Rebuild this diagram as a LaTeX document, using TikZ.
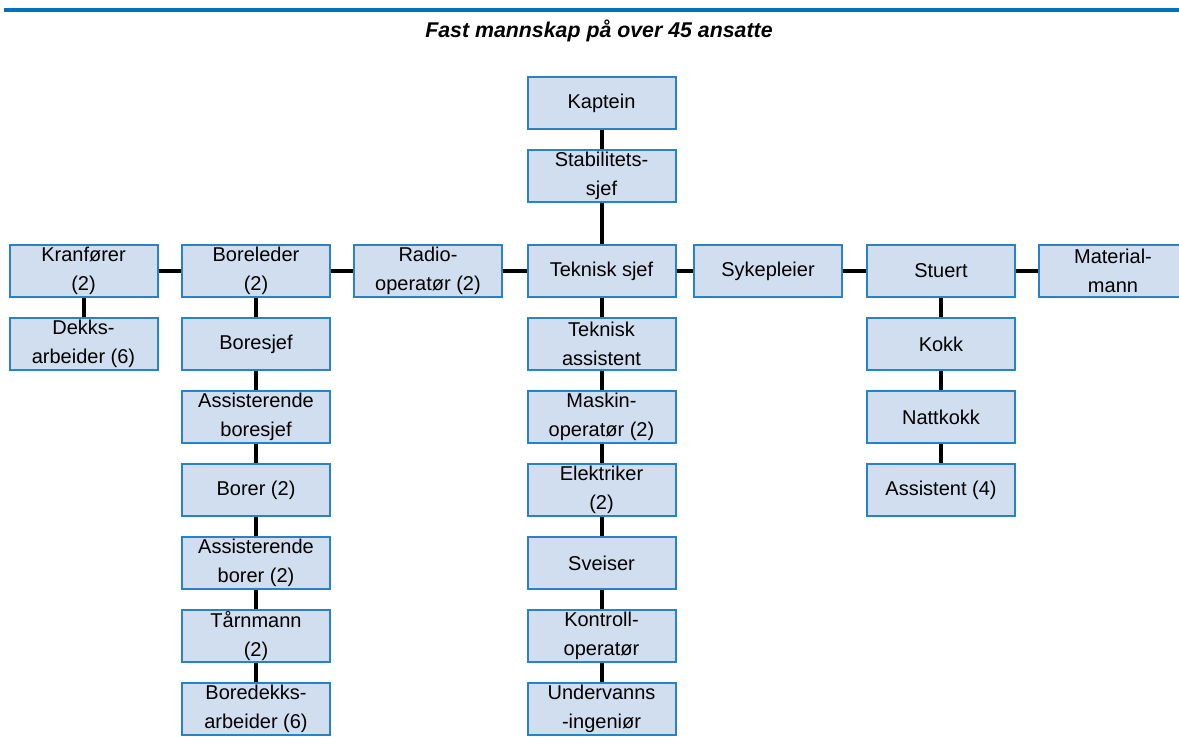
\documentclass[tikz,border=0pt]{standalone}
\usepackage{fontspec}
\setmainfont{Liberation Sans}
\usetikzlibrary{positioning}
\definecolor{rolefill}{RGB}{208,222,240}
\definecolor{roleedge}{RGB}{40,130,200}
\definecolor{headline}{RGB}{0,112,192}

\begin{document}
\begin{tikzpicture}[x=0.75pt,y=-0.75pt,
    node distance=14.25pt,
    role/.style={draw=roleedge, line width=1.5pt, fill=rolefill,
        minimum width=111pt, minimum height=39pt, inner sep=0pt,
        align=center, font=\fontsize{15}{22}\selectfont},
    link/.style={black, line width=3pt}]
    \useasboundingbox (0,0) rectangle (1179,745);

    % heading
    \draw[headline, line width=3pt] (4,10.5) -- (1179,10.5);
    \node[font=\fontsize{16}{18}\selectfont\bfseries\itshape] (title) at (599,31) {Fast mannskap på over 45 ansatte};

    % top and main row
    \node[role] (kaptein) at (601.5,103) {Kaptein};
    \node[role] (stab) at (601.5,176) {Stabilitets-\\sjef};
    \node[role] (kran) at (83.5,271) {Kranfører\\(2)};
    \node[role] (boreleder) at (256,271) {Boreleder\\(2)};
    \node[role] (radio) at (428,271) {Radio-\\operatør (2)};
    \node[role] (teknisk) at (601.5,271) {Teknisk sjef};
    \node[role] (syke) at (768,271) {Sykepleier};
    \node[role] (stuert) at (941,271) {Stuert};
    \node[role] (material) at (1113,271) {Material-\\mann};

    % columns
    \node[role, below=of kran] (dekks) {Dekks-\\arbeider (6)};

    \node[role, below=of boreleder] (boresjef) {Boresjef};
    \node[role, below=of boresjef] (assboresjef) {Assisterende\\boresjef};
    \node[role, below=of assboresjef] (borer) {Borer (2)};
    \node[role, below=of borer] (assborer) {Assisterende\\borer (2)};
    \node[role, below=of assborer] (taarn) {Tårnmann\\(2)};
    \node[role, below=of taarn] (boredekks) {Boredekks-\\arbeider (6)};

    \node[role, below=of teknisk] (tekass) {Teknisk\\assistent};
    \node[role, below=of tekass] (maskin) {Maskin-\\operatør (2)};
    \node[role, below=of maskin] (elektro) {Elektriker\\(2)};
    \node[role, below=of elektro] (sveiser) {Sveiser};
    \node[role, below=of sveiser] (kontroll) {Kontroll-\\operatør};
    \node[role, below=of kontroll] (undervann) {Undervanns\\-ingeniør};

    \node[role, below=of stuert] (kokk) {Kokk};
    \node[role, below=of kokk] (nattkokk) {Nattkokk};
    \node[role, below=of nattkokk] (assistent) {Assistent (4)};

    % connectors
    \draw[link] (kaptein) -- (stab);
    \draw[link] (stab) -- (teknisk);
    \draw[link] (kran) -- (boreleder);
    \draw[link] (boreleder) -- (radio);
    \draw[link] (radio) -- (teknisk);
    \draw[link] (teknisk) -- (syke);
    \draw[link] (syke) -- (stuert);
    \draw[link] (stuert) -- (material);
    \draw[link] (kran) -- (dekks);
    \draw[link] (boreleder) -- (boresjef);
    \draw[link] (boresjef) -- (assboresjef);
    \draw[link] (assboresjef) -- (borer);
    \draw[link] (borer) -- (assborer);
    \draw[link] (assborer) -- (taarn);
    \draw[link] (taarn) -- (boredekks);
    \draw[link] (teknisk) -- (tekass);
    \draw[link] (tekass) -- (maskin);
    \draw[link] (maskin) -- (elektro);
    \draw[link] (elektro) -- (sveiser);
    \draw[link] (sveiser) -- (kontroll);
    \draw[link] (kontroll) -- (undervann);
    \draw[link] (stuert) -- (kokk);
    \draw[link] (kokk) -- (nattkokk);
    \draw[link] (nattkokk) -- (assistent);
\end{tikzpicture}
\end{document}
